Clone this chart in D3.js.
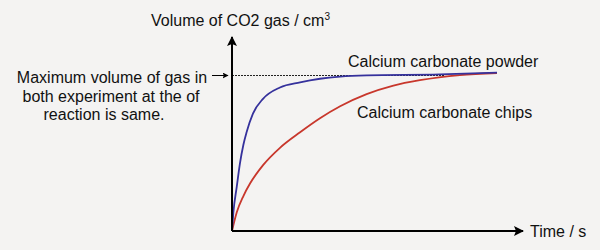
<!DOCTYPE html>
<html>
<head>
<meta charset="utf-8">
<script src="https://cdn.jsdelivr.net/npm/d3@7"></script>
<style>
  body { margin: 0; background: #f4f3f2; }
  svg { display: block; font-family: "Liberation Sans", Arial, sans-serif; }
</style>
</head>
<body>
<div class="chart"></div>
<script>
// Curve readings (time as % of plotted span, volume as % of the max)
var powderTime = [0, 0.5, 1.8, 3.0, 4.3, 5.5, 7.9, 11.7, 18.1, 25.7, 33.2, 40.8, 50.8, 78.5, 100];
var powderVolume = [0, 11.6, 28.5, 43.5, 55.5, 63.5, 75.5, 85.0, 92.3, 95.6, 97.9, 99.3, 100.1, 100.7, 101.9];

var chipsTime = [0, 1.8, 4.3, 6.8, 11.8, 18.1, 25.7, 33.2, 40.8, 50.8, 60.9, 70.9, 86.0, 100];
var chipsVolume = [0, 12.0, 22.5, 30.5, 42.5, 53.5, 63.5, 72.5, 80.2, 88.0, 93.5, 97.0, 100.3, 101.6];

var maxVolume = 100;
var seriesNames = ["Calcium carbonate powder", "Calcium carbonate chips"];
var noteLines = ["Maximum volume of gas in", "both experiment at the of", "reaction is same."];

var svgWidth = 600;
var svgHeight = 250;

var svg = d3.select(".chart")
  .append("svg")
  .attr("width", svgWidth)
  .attr("height", svgHeight);

var x = d3.scaleLinear().domain([0, 100]).range([232, 497]);
var y = d3.scaleLinear().domain([0, 100]).range([231, 75.5]);

// arrowheads
var defs = svg.append("defs");
defs.append("marker")
  .attr("id", "head")
  .attr("viewBox", "0 0 10 10")
  .attr("refX", 9)
  .attr("refY", 5)
  .attr("markerWidth", 5)
  .attr("markerHeight", 5)
  .attr("markerUnits", "strokeWidth")
  .attr("orient", "auto")
  .append("path")
  .attr("d", "M0,0 L10,5 L0,10 L2,5 Z")
  .attr("fill", "#000");

defs.append("marker")
  .attr("id", "small")
  .attr("viewBox", "0 0 10 10")
  .attr("refX", 9)
  .attr("refY", 5)
  .attr("markerWidth", 6)
  .attr("markerHeight", 6)
  .attr("markerUnits", "userSpaceOnUse")
  .attr("orient", "auto")
  .append("path")
  .attr("d", "M0,0 L10,5 L0,10 L2,5 Z")
  .attr("fill", "#000");

// dashed max line
svg.append("line")
  .attr("x1", x(0))
  .attr("x2", x(80))
  .attr("y1", y(maxVolume))
  .attr("y2", y(maxVolume))
  .attr("stroke", "#222")
  .attr("stroke-width", 1)
  .attr("stroke-dasharray", "2,1");

var line = d3.line()
  .x(d => x(d[0]))
  .y(d => y(d[1]))
  .curve(d3.curveMonotoneX);

svg.append("path")
  .datum(chipsTime.map((t, i) => [t, chipsVolume[i]]))
  .attr("d", line)
  .attr("fill", "none")
  .attr("stroke", "#c8372c")
  .attr("stroke-width", 1.8);

svg.append("path")
  .datum(powderTime.map((t, i) => [t, powderVolume[i]]))
  .attr("d", line)
  .attr("fill", "none")
  .attr("stroke", "#35319c")
  .attr("stroke-width", 1.8);

// axes
svg.append("line")
  .attr("x1", x(0)).attr("y1", y(0))
  .attr("x2", x(0)).attr("y2", 37)
  .attr("stroke", "#000")
  .attr("stroke-width", 2)
  .attr("marker-end", "url(#head)");

svg.append("line")
  .attr("x1", x(0)).attr("y1", y(0))
  .attr("x2", 523).attr("y2", y(0))
  .attr("stroke", "#000")
  .attr("stroke-width", 2)
  .attr("marker-end", "url(#head)");

// labels
var title = svg.append("text")
  .attr("x", 151)
  .attr("y", 26)
  .style("font-size", "16px")
  .attr("fill", "#111");
title.append("tspan").text("Volume of CO2 gas / cm");
title.append("tspan").text("3").attr("dy", -6).style("font-size", "10px");

svg.append("text")
  .attr("x", 530)
  .attr("y", 237)
  .style("font-size", "16px")
  .attr("fill", "#111")
  .text("Time / s");

svg.append("text")
  .attr("x", 348)
  .attr("y", 67)
  .style("font-size", "16px")
  .attr("fill", "#111")
  .text(seriesNames[0]);

svg.append("text")
  .attr("x", 357)
  .attr("y", 118)
  .style("font-size", "16px")
  .attr("fill", "#111")
  .text(seriesNames[1]);

var noteX = [112, 111, 104];
svg.selectAll(".note")
  .data(noteLines)
  .enter()
  .append("text")
  .attr("class", "note")
  .attr("x", (d, i) => noteX[i])
  .attr("y", (d, i) => 83 + i * 18.5)
  .attr("text-anchor", "middle")
  .style("font-size", "16px")
  .attr("fill", "#111")
  .text(d => d);

svg.append("line")
  .attr("x1", 212)
  .attr("x2", 228)
  .attr("y1", y(maxVolume))
  .attr("y2", y(maxVolume))
  .attr("stroke", "#000")
  .attr("stroke-width", 1)
  .attr("marker-end", "url(#small)");
</script>
</body>
</html>
